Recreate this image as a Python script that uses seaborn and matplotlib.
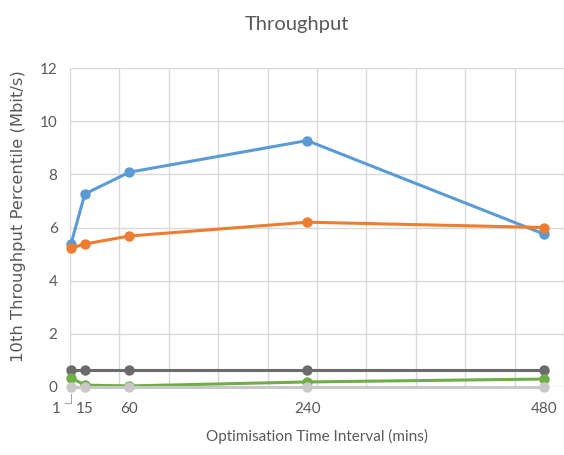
import pandas as pd
import matplotlib.pyplot as plt
import matplotlib.transforms as mtrans
from matplotlib.font_manager import FontProperties
import seaborn as sns

# Optimisation interval (mins) and 10th percentile throughput per series
intervals = [1, 15, 60, 240, 480]
series_a = [5.38, 7.26, 8.08, 9.27, 5.75]   # blue
series_b = [5.22, 5.38, 5.68, 6.20, 6.00]   # orange
series_c = [0.64, 0.64, 0.64, 0.64, 0.64]   # dark grey
series_d = [0.35, 0.07, 0.04, 0.19, 0.30]   # green
series_e = [0.01, 0.01, 0.01, 0.01, 0.01]   # light grey
series_names = ["A", "B", "C", "D", "E"]
tick_labels = ["1", "15", "60", "240", "480"]

df = pd.DataFrame({
    "interval": intervals * 5,
    "value": series_a + series_b + series_c + series_d + series_e,
    "series": [n for n in series_names for _ in intervals],
})

colors = ["#5B9BD5", "#ED7D31", "#6B6B6B", "#70AD47", "#C8C8C8"]

sns.set_style("white")
plt.rcParams["font.family"] = ["Lato", "DejaVu Sans"]

fig = plt.figure(figsize=(5.64, 4.55), dpi=100)
ax = fig.add_axes([70 / 564, 1 - 387 / 455, 1 - 70 / 564, (387 - 68) / 455])

sns.lineplot(data=df, x="interval", y="value", hue="series", palette=colors,
             marker="o", markersize=7.5, markeredgewidth=0, linewidth=2.2,
             legend=False, ax=ax, clip_on=False)

ax.set_xlim(0, 500)
ax.set_ylim(0, 12)
ax.set_xticks(range(0, 501, 50), minor=True)
ax.grid(True, which="minor", axis="x", color="#D9D9D9", linewidth=1)
ax.set_yticks(range(0, 13, 2))
ax.grid(True, which="major", axis="y", color="#D9D9D9", linewidth=1)
ax.tick_params(which="minor", length=0)
ax.set_axisbelow(True)

ax.set_xticks(intervals)
ax.set_xticklabels(tick_labels)
ax.tick_params(axis="both", length=0, labelsize=11, labelcolor="#595959", pad=9)
ax.tick_params(axis="x", pad=11)

# the "1" label sits left of the axis with a small leader line
first = ax.get_xticklabels()[0]
first.set_horizontalalignment("right")
first.set_transform(first.get_transform()
                    + mtrans.ScaledTranslation(-10 / 100, 0, fig.dpi_scale_trans))
ax.plot([-5, 1, 1], [-0.6, -0.6, -0.25], color="#A6A6A6", lw=0.8, clip_on=False)

for s in ax.spines.values():
    s.set_visible(False)

ax.set_xlabel("Optimisation Time Interval (mins)", fontsize=11, color="#595959", labelpad=9)
ylab_font = FontProperties(family="DejaVu Sans", size=11.8)
ax.set_ylabel("10th Throughput Percentile (Mbit/s)", color="#595959",
              fontproperties=ylab_font)
ax.yaxis.set_label_coords(-0.09, 0.535)
fig.text(0.527, 0.947, "Throughput", ha="center", va="center", fontsize=14.5, color="#595959")

fig.savefig("out.png", dpi=100)
